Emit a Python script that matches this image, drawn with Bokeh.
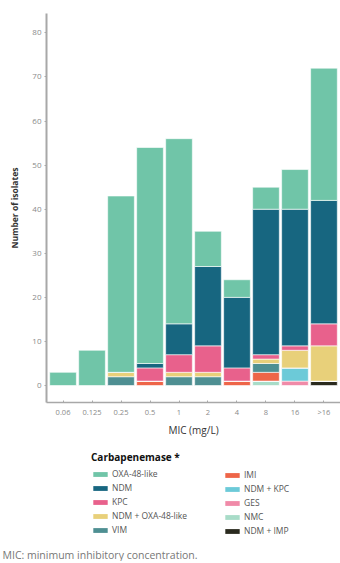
from bokeh.plotting import figure
from bokeh.layouts import column
from bokeh.models import (ColumnDataSource, FactorRange, Range1d, Legend, LegendItem, Title,
                          FixedTicker)
from bokeh.embed import file_html
from bokeh.resources import INLINE

mic = ["0.06", "0.125", "0.25", "0.5", "1", "2", "4", "8", "16", ">16"]
oxa48 = [3, 8, 40, 49, 42, 8, 4, 5, 9, 30]
ndm = [0, 0, 0, 1, 7, 18, 16, 33, 31, 28]
kpc = [0, 0, 0, 3, 4, 6, 3, 1, 1, 5]
ndm_oxa48 = [0, 0, 1, 0, 1, 1, 0, 1, 4, 8]
vim = [0, 0, 2, 0, 2, 2, 0, 2, 0, 0]
imi = [0, 0, 0, 1, 0, 0, 1, 2, 0, 0]
ndm_kpc = [0, 0, 0, 0, 0, 0, 0, 0, 3, 0]
ges = [0, 0, 0, 0, 0, 0, 0, 0, 1, 0]
nmc = [0, 0, 0, 0, 0, 0, 0, 1, 0, 0]
ndm_imp = [0, 0, 0, 0, 0, 0, 0, 0, 0, 1]

names = ["OXA-48-like", "NDM", "KPC", "NDM + OXA-48-like", "VIM",
         "IMI", "NDM + KPC", "GES", "NMC", "NDM + IMP"]
keys = ["oxa48", "ndm", "kpc", "ndm_oxa48", "vim", "imi", "ndm_kpc", "ges", "nmc", "ndm_imp"]
colors = ["#70c5a8", "#176680", "#e8618c", "#e8d07a", "#4e8f92",
          "#ee6548", "#6ccad8", "#f08aa8", "#a8dcc8", "#2a2a1e"]

src = ColumnDataSource(dict(mic=mic, oxa48=oxa48, ndm=ndm, kpc=kpc, ndm_oxa48=ndm_oxa48,
                            vim=vim, imi=imi, ndm_kpc=ndm_kpc, ges=ges, nmc=nmc, ndm_imp=ndm_imp))

FONT = "Open Sans"

# ---------------- main chart ----------------
xr = FactorRange(*mic, range_padding=0.07, range_padding_units="absolute")
p = figure(x_range=xr, y_range=Range1d(-3.85, 84.4), frame_width=294, frame_height=389,
           output_backend="svg", toolbar_location=None,
           min_border_left=46, min_border_right=0, min_border_top=13, min_border_bottom=43)
p.outline_line_color = None
p.xgrid.visible = False
p.ygrid.visible = False

stack_keys = list(reversed(keys))
stack_colors = list(reversed(colors))
p.vbar_stack(stack_keys, x="mic", width=0.92, source=src, color=stack_colors,
             line_color="white", line_width=0.6)

p.yaxis.ticker = FixedTicker(ticks=[0, 10, 20, 30, 40, 50, 60, 70, 80])
for ax in (p.xaxis[0], p.yaxis[0]):
    ax.axis_line_color = "#a8a8a8"
    ax.major_tick_line_color = "#a8a8a8"
    ax.minor_tick_line_color = None
    ax.major_label_text_color = "#8a8a8a"
    ax.major_label_text_font = FONT
    ax.axis_label_text_font = FONT
    ax.axis_label_text_font_style = "normal"
    ax.axis_label_text_color = "#333333"

p.yaxis.axis_line_width = 2
p.yaxis.major_tick_out = 2
p.yaxis.major_tick_in = 0
p.yaxis.major_label_text_font_size = "8px"
p.yaxis.major_label_standoff = 3
p.yaxis.axis_label = "Number of isolates"
p.yaxis.axis_label_text_font_size = "8.5px"
p.yaxis.axis_label_text_font_style = "bold"
p.yaxis.axis_label_standoff = 9

p.xaxis.axis_line_width = 1.5
p.xaxis.major_tick_out = 0
p.xaxis.major_tick_in = 2
p.xaxis.major_label_text_font_size = "7.5px"
p.xaxis.major_label_standoff = 4
p.xaxis.axis_label = "MIC (mg/L)"
p.xaxis.axis_label_text_font_size = "10px"
p.xaxis.axis_label_standoff = 3

# ---------------- legend / footer panel ----------------
q = figure(x_range=xr, y_range=Range1d(0, 1), frame_width=340, frame_height=100,
           output_backend="svg", toolbar_location=None, x_axis_type=None, y_axis_type=None,
           min_border_left=0, min_border_right=0, min_border_top=0, min_border_bottom=0)
q.outline_line_color = None
q.xgrid.visible = False
q.ygrid.visible = False

# legend swatches: the same series, kept hidden in this panel
swatches = {}
for k, c in zip(keys, colors):
    swatches[k] = q.vbar(x="mic", top=k, width=0.9, source=src, color=c, line_color=None,
                         visible=False)


def make_legend(idx, loc, title=None):
    items = [LegendItem(label=names[i], renderers=[swatches[keys[i]]]) for i in idx]
    leg = Legend(items=items, location=loc)
    if title:
        leg.title = title
        leg.title_text_font = FONT
        leg.title_text_font_size = "10px"
        leg.title_text_font_style = "bold"
        leg.title_text_color = "#111111"
        leg.title_standoff = 4
    leg.label_text_font = FONT
    leg.label_text_font_size = "8.5px"
    leg.label_text_color = "#555555"
    leg.glyph_width = 18
    leg.glyph_height = 6
    leg.label_height = 11
    leg.label_standoff = 3
    leg.spacing = 3
    leg.padding = 0
    leg.margin = 0
    leg.border_line_color = None
    leg.background_fill_alpha = 0
    leg.inactive_fill_alpha = 0
    leg.click_policy = "none"
    return leg


q.add_layout(make_legend([0, 1, 2, 3, 4], (91, 10), "Carbapenemase *"))
q.add_layout(make_legend([5, 6, 7, 8, 9], (223, 9)))

footer = Title(text="MIC: minimum inhibitory concentration.", align="left", offset=-44,
               text_font=FONT, text_font_size="10.5px", text_color="#777777",
               text_font_style="normal", standoff=0)
q.add_layout(footer, "below")

layout = column(p, q, spacing=0)
open("out.html", "w").write(file_html(layout, INLINE))
